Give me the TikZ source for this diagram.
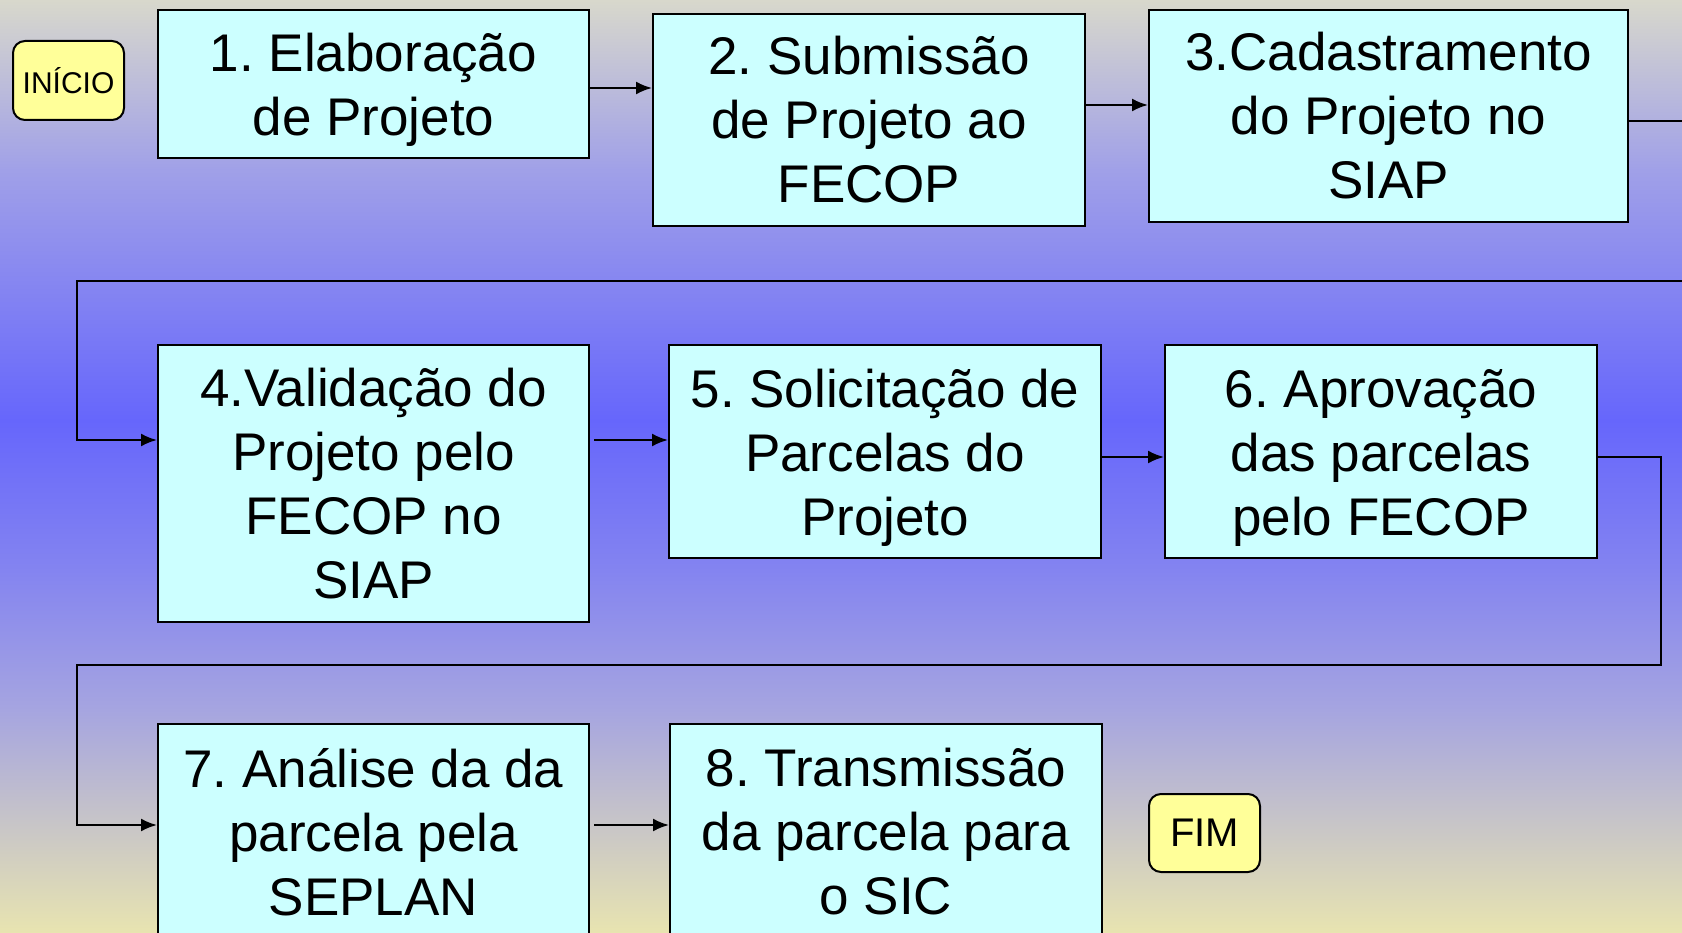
\documentclass[tikz,border=0pt]{standalone}
\usepackage{fontspec}
\setmainfont{Liberation Sans}
\usetikzlibrary{arrows.meta}
\definecolor{bga}{RGB}{216,216,204}
\definecolor{bgb}{RGB}{160,160,232}
\definecolor{bgc}{RGB}{102,102,252}
\definecolor{bgd}{RGB}{132,132,240}
\definecolor{bge}{RGB}{166,165,224}
\definecolor{bgf}{RGB}{232,228,176}
\definecolor{boxfill}{RGB}{204,255,255}
\definecolor{termfill}{RGB}{255,255,153}
\newcommand{\lowerfirst}{\rule{0pt}{50pt}}
\tikzset{
  stepbox/.style={draw=black, line width=2pt, fill=boxfill, inner sep=0pt, align=center,
    font=\fontsize{53}{64}\selectfont\frenchspacing},
  termbox/.style={draw=black, line width=2pt, fill=termfill, rounded corners=12pt, inner sep=0pt, align=center},
  arr/.style={line width=2.2pt, -{Latex[length=16pt,width=13pt]}},
}
\begin{document}
\begin{tikzpicture}[x=1pt,y=-1pt]
\useasboundingbox (0,0) rectangle (1682,933);
\clip (0,0) rectangle (1682,933);
\shade[top color=bga, bottom color=bgb] (0,0) rectangle (1682,171);
\shade[top color=bgb, bottom color=bgc] (0,170) rectangle (1682,421);
\shade[top color=bgc, bottom color=bgd] (0,420) rectangle (1682,571);
\shade[top color=bgd, bottom color=bge] (0,570) rectangle (1682,711);
\shade[top color=bge, bottom color=bgf] (0,710) rectangle (1682,933);

\node[termbox, minimum width=111pt, minimum height=79pt, font=\fontsize{30}{36}\selectfont] (ini) at (68.5,80.5) {INÍCIO};
\node[stepbox, minimum width=431pt, minimum height=148pt] (b1) at (373.5,84) {\lowerfirst 1. Elaboração\\de Projeto};
\node[stepbox, minimum width=432pt, minimum height=212pt] (b2) at (869,120) {2. Submissão\\de Projeto ao\\FECOP};
\node[stepbox, minimum width=479pt, minimum height=212pt] (b3) at (1388.5,116) {3.Cadastramento\\do Projeto no\\SIAP};
\node[stepbox, minimum width=431pt, minimum height=277pt] (b4) at (373.5,483.5) {4.Validação do\\Projeto pelo\\FECOP no\\SIAP};
\node[stepbox, minimum width=432pt, minimum height=213pt] (b5) at (885,451.5) {\lowerfirst 5. Solicitação de\\Parcelas do\\Projeto};
\node[stepbox, minimum width=432pt, minimum height=213pt] (b6) at (1381,451.5) {\lowerfirst 6. Aprovação\\das parcelas\\pelo FECOP};
\node[stepbox, minimum width=431pt, minimum height=216pt] (b7) at (373.5,832) {7. Análise da da\\parcela pela\\SEPLAN};
\node[stepbox, minimum width=432pt, minimum height=216pt] (b8) at (886,832) {8. Transmissão\\da parcela para\\o SIC};
\node[termbox, minimum width=111pt, minimum height=78pt, font=\fontsize{40}{48}\selectfont] (fim) at (1204.5,833) {FIM};

\coordinate (r1) at (1700,281);
\coordinate (l1) at (77,281);
\coordinate (r2) at (1661,665);
\coordinate (l2) at (77,665);

\draw[arr] ([yshift=-4pt]b1.east) -- ([yshift=-4pt]b1.east -| b2.west);
\draw[arr] ([yshift=15pt]b2.east) -- ([yshift=15pt]b2.east -| b3.west);
\draw[arr] ([yshift=-5pt]b3.east) -- ([yshift=-5pt]b3.east -| r1) -- (r1) -- (l1) |- ([yshift=43.5pt]b4.west);
\draw[arr] ([xshift=4pt,yshift=43.5pt]b4.east) -- ([yshift=43.5pt]b4.east -| b5.west);
\draw[arr] ([yshift=-5.5pt]b5.east) -- ([yshift=-5.5pt]b5.east -| b6.west);
\draw[arr] ([yshift=-5.5pt]b6.east) -- ([yshift=-5.5pt]b6.east -| r2) -- (r2) -- (l2) |- ([yshift=7pt]b7.west);
\draw[arr] ([xshift=4pt,yshift=7pt]b7.east) -- ([yshift=7pt]b7.east -| b8.west);
\end{tikzpicture}
\end{document}
